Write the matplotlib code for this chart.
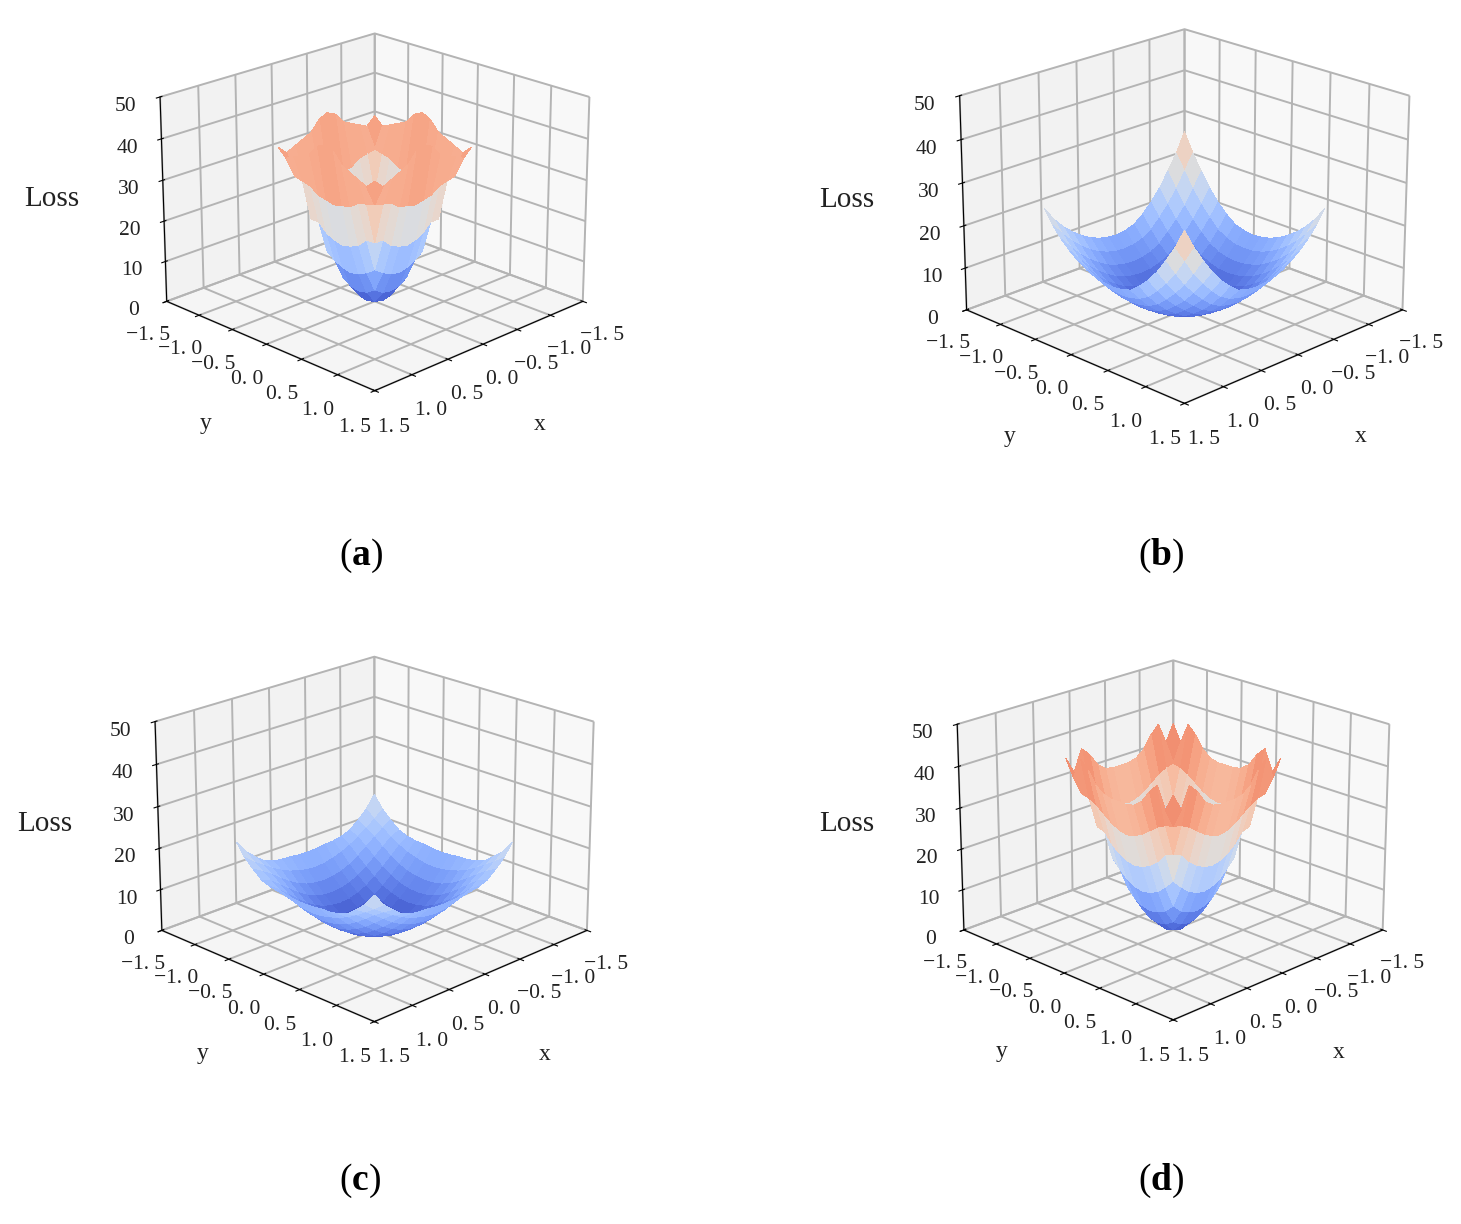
import numpy as np
from matplotlib import pyplot as plt
from matplotlib.colors import TwoSlopeNorm

plt.rcParams["font.family"] = ["Liberation Serif", "DejaVu Serif"]
plt.rcParams["mathtext.fontset"] = "custom"
plt.rcParams["mathtext.bf"] = "Liberation Serif:bold"
plt.rcParams["grid.color"] = "#b4b4b4"
plt.rcParams["grid.linewidth"] = 1.4

W, H = 1461, 1224

panel_names = ["a", "b", "c", "d"]
xy_ticks = [-1.5, -1.0, -0.5, 0.0, 0.5, 1.0, 1.5]
xy_labels = ["\u22121. 5", "\u22121. 0", "\u22120. 5", "0. 0", "0. 5", "1. 0", "1. 5"]
z_ticks = [0, 10, 20, 30, 40, 50]

# half width of the surface in x and y
half_a = 0.68
half_b = 0.95
half_c = 0.96
half_d = 0.75

# loss values on one quadrant, x index going down and y index going across
loss_a = [
    [0, 1, 4.2, 9.5, 17, 27.5, 42.5],
    [1, 1.6, 4.6, 10, 17.5, 28, 41.5],
    [4.2, 4.6, 6, 11, 18.5, 28.5, 39],
    [9.5, 10, 11, 12.5, 20.5, 30, 38],
    [17, 17.5, 18.5, 20.5, 20.5, 30.5, 37],
    [27.5, 28, 28.5, 30, 30.5, 31, 36],
    [42.5, 41.5, 39, 38, 37, 36, 38],
]

loss_b_same = [
    [0.3, 0.5, 1, 1.9, 3.2, 4.8, 6.8, 9.2, 11.8],
    [0.5, 0.7, 1.2, 2.1, 3.4, 5, 7, 9.4, 12.1],
    [1, 1.2, 1.7, 2.6, 3.9, 5.6, 7.6, 10.1, 12.8],
    [1.9, 2.1, 2.6, 3.6, 5, 6.7, 8.8, 11.4, 14.5],
    [3.2, 3.4, 3.9, 5, 6.6, 8.5, 10.8, 13.6, 16.7],
    [4.8, 5, 5.6, 6.7, 8.5, 10.5, 13.1, 16.1, 19.4],
    [6.8, 7, 7.6, 8.8, 10.8, 13.1, 15.8, 19.1, 22.8],
    [9.2, 9.4, 10.1, 11.4, 13.6, 16.1, 19.1, 22.8, 26.5],
    [11.8, 12.1, 12.8, 14.5, 16.7, 19.4, 22.8, 26.5, 31],
]
loss_b_opposite = [
    [0.3, 0.5, 1, 1.9, 3.2, 4.8, 6.8, 9.2, 11.8],
    [0.5, 0.7, 1.2, 2.1, 3.4, 5, 7, 9.4, 12],
    [1, 1.2, 1.7, 2.6, 3.9, 5.5, 7.5, 9.9, 12.5],
    [1.9, 2.1, 2.6, 3.5, 4.8, 6.4, 8.4, 10.8, 13.4],
    [3.2, 3.4, 3.9, 4.8, 6.1, 7.7, 9.7, 12.1, 14.7],
    [4.8, 5, 5.5, 6.4, 7.7, 9.3, 11.3, 13.7, 16.3],
    [6.8, 7, 7.5, 8.4, 9.7, 11.3, 13.3, 15.7, 18.3],
    [9.2, 9.4, 9.9, 10.8, 12.1, 13.7, 15.7, 18.1, 20.8],
    [11.8, 12, 12.5, 13.4, 14.7, 16.3, 18.3, 20.8, 24],
]

loss_c = [
    [0.2, 0.4, 1, 2, 3.5, 5.3, 7.5, 10, 13],
    [0.4, 0.6, 1.2, 2.2, 3.7, 5.5, 7.7, 10.2, 13.1],
    [1, 1.2, 1.8, 2.8, 4.3, 6.1, 8.2, 10.7, 13.4],
    [2, 2.2, 2.8, 3.8, 5.3, 7.1, 9.1, 11.4, 13.5],
    [3.5, 3.7, 4.3, 5.3, 6.8, 8.5, 10.4, 12.4, 13.9],
    [5.3, 5.5, 6.1, 7.1, 8.5, 10.2, 12, 13.7, 14.7],
    [7.5, 7.7, 8.2, 9.1, 10.4, 12, 13.7, 15.2, 16.5],
    [10, 10.2, 10.7, 11.4, 12.4, 13.7, 15.2, 16.7, 18.5],
    [13, 13.1, 13.4, 13.5, 13.9, 14.7, 16.5, 18.5, 21.5],
]

loss_d = [
    [0, 1, 3.3, 7, 12.5, 19.5, 27.5, 36],
    [1, 1.6, 3.7, 7.4, 12.9, 19.9, 28, 36],
    [3.3, 3.7, 5, 8.4, 13.9, 20.9, 29, 36.5],
    [7, 7.4, 8.4, 10.4, 15.7, 22.5, 30.5, 38],
    [12.5, 12.9, 13.9, 15.7, 17.8, 24.9, 32, 41],
    [19.5, 19.9, 20.9, 22.5, 24.9, 25.5, 33, 43],
    [27.5, 28, 29, 30.5, 32, 33, 33.5, 38],
    [36, 36, 36.5, 38, 41, 43, 38, 42],
]


def whole_surface(same, opposite, half):
    # the quadrants mirror each other, so one or two tables give the whole grid
    same = np.array(same, dtype=float)
    opposite = np.array(opposite, dtype=float)
    neg = np.hstack([same[:0:-1, :0:-1], opposite[:0:-1, :]])
    pos = np.hstack([opposite[:, :0:-1], same])
    z = np.vstack([neg, pos])
    g = np.linspace(-half, half, z.shape[0])
    x, y = np.meshgrid(g, g, indexing="ij")
    return x, y, z


surfaces = [
    whole_surface(loss_a, loss_a, half_a),
    whole_surface(loss_b_same, loss_b_opposite, half_b),
    whole_surface(loss_c, loss_c, half_c),
    whole_surface(loss_d, loss_d, half_d),
]

# pixel box of each 3d axes: centre x, centre y, width, height
boxes = [
    (368.5, 207, 564, 462),
    (1178, 211, 591, 484),
    (368, 834, 577, 472),
    (1167, 835, 567, 465),
]
loss_pos = [(52, 199), (847, 200), (45, 824), (847, 824)]
y_pos = [(206, 424), (1010, 436), (203, 1054), (1002, 1052)]
x_pos = [(540, 424), (1361, 436), (545, 1054), (1339, 1052)]
caption_pos = [(361, 556), (1161, 556), (360, 1181), (1161, 1181)]

norm = TwoSlopeNorm(vmin=0, vcenter=23, vmax=50)

fig = plt.figure(figsize=(W / 100, H / 100), dpi=100)

for i in range(4):
    cx, cy, w, h = boxes[i]
    ax = fig.add_axes([(cx - w / 2) / W, 1 - (cy + h / 2) / H, w / W, h / H], projection="3d")
    ax.patch.set_alpha(0)
    ax.set_box_aspect((4, 4, 2.93))
    x, y, z = surfaces[i]
    ax.plot_surface(x, y, z, cmap="coolwarm", norm=norm, rstride=1, cstride=1,
                    linewidth=0, antialiased=False)
    ax.set_xlim(-1.5, 1.5)
    ax.set_ylim(-1.5, 1.5)
    ax.set_zlim(0, 50)
    ax.set_xticks(xy_ticks)
    ax.set_yticks(xy_ticks)
    ax.set_zticks(z_ticks)
    ax.set_xticklabels(xy_labels, fontsize=15.5, color="#222222")
    ax.set_yticklabels(xy_labels, fontsize=15.5, color="#222222")
    ax.set_zticklabels([str(v) for v in z_ticks], fontsize=15.5, color="#222222")
    ax.tick_params(axis="x", pad=7)
    ax.tick_params(axis="y", pad=7)
    ax.tick_params(axis="z", pad=6)
    ax.view_init(elev=21, azim=45)
    for axis in (ax.xaxis, ax.yaxis, ax.zaxis):
        axis.pane.set_edgecolor("#e6e6e6")

    fig.text(loss_pos[i][0] / W, 1 - loss_pos[i][1] / H, "Loss", fontsize=21,
             ha="center", va="center", color="#222222")
    fig.text(y_pos[i][0] / W, 1 - y_pos[i][1] / H, "y", fontsize=17,
             ha="center", va="center", color="#222222")
    fig.text(x_pos[i][0] / W, 1 - x_pos[i][1] / H, "x", fontsize=17,
             ha="center", va="center", color="#222222")
    fig.text(caption_pos[i][0] / W, 1 - caption_pos[i][1] / H,
             "(" + r"$\mathbf{" + panel_names[i] + "}$" + ")", fontsize=27,
             ha="center", va="center", color="black")

fig.savefig("out.png", dpi=100)
